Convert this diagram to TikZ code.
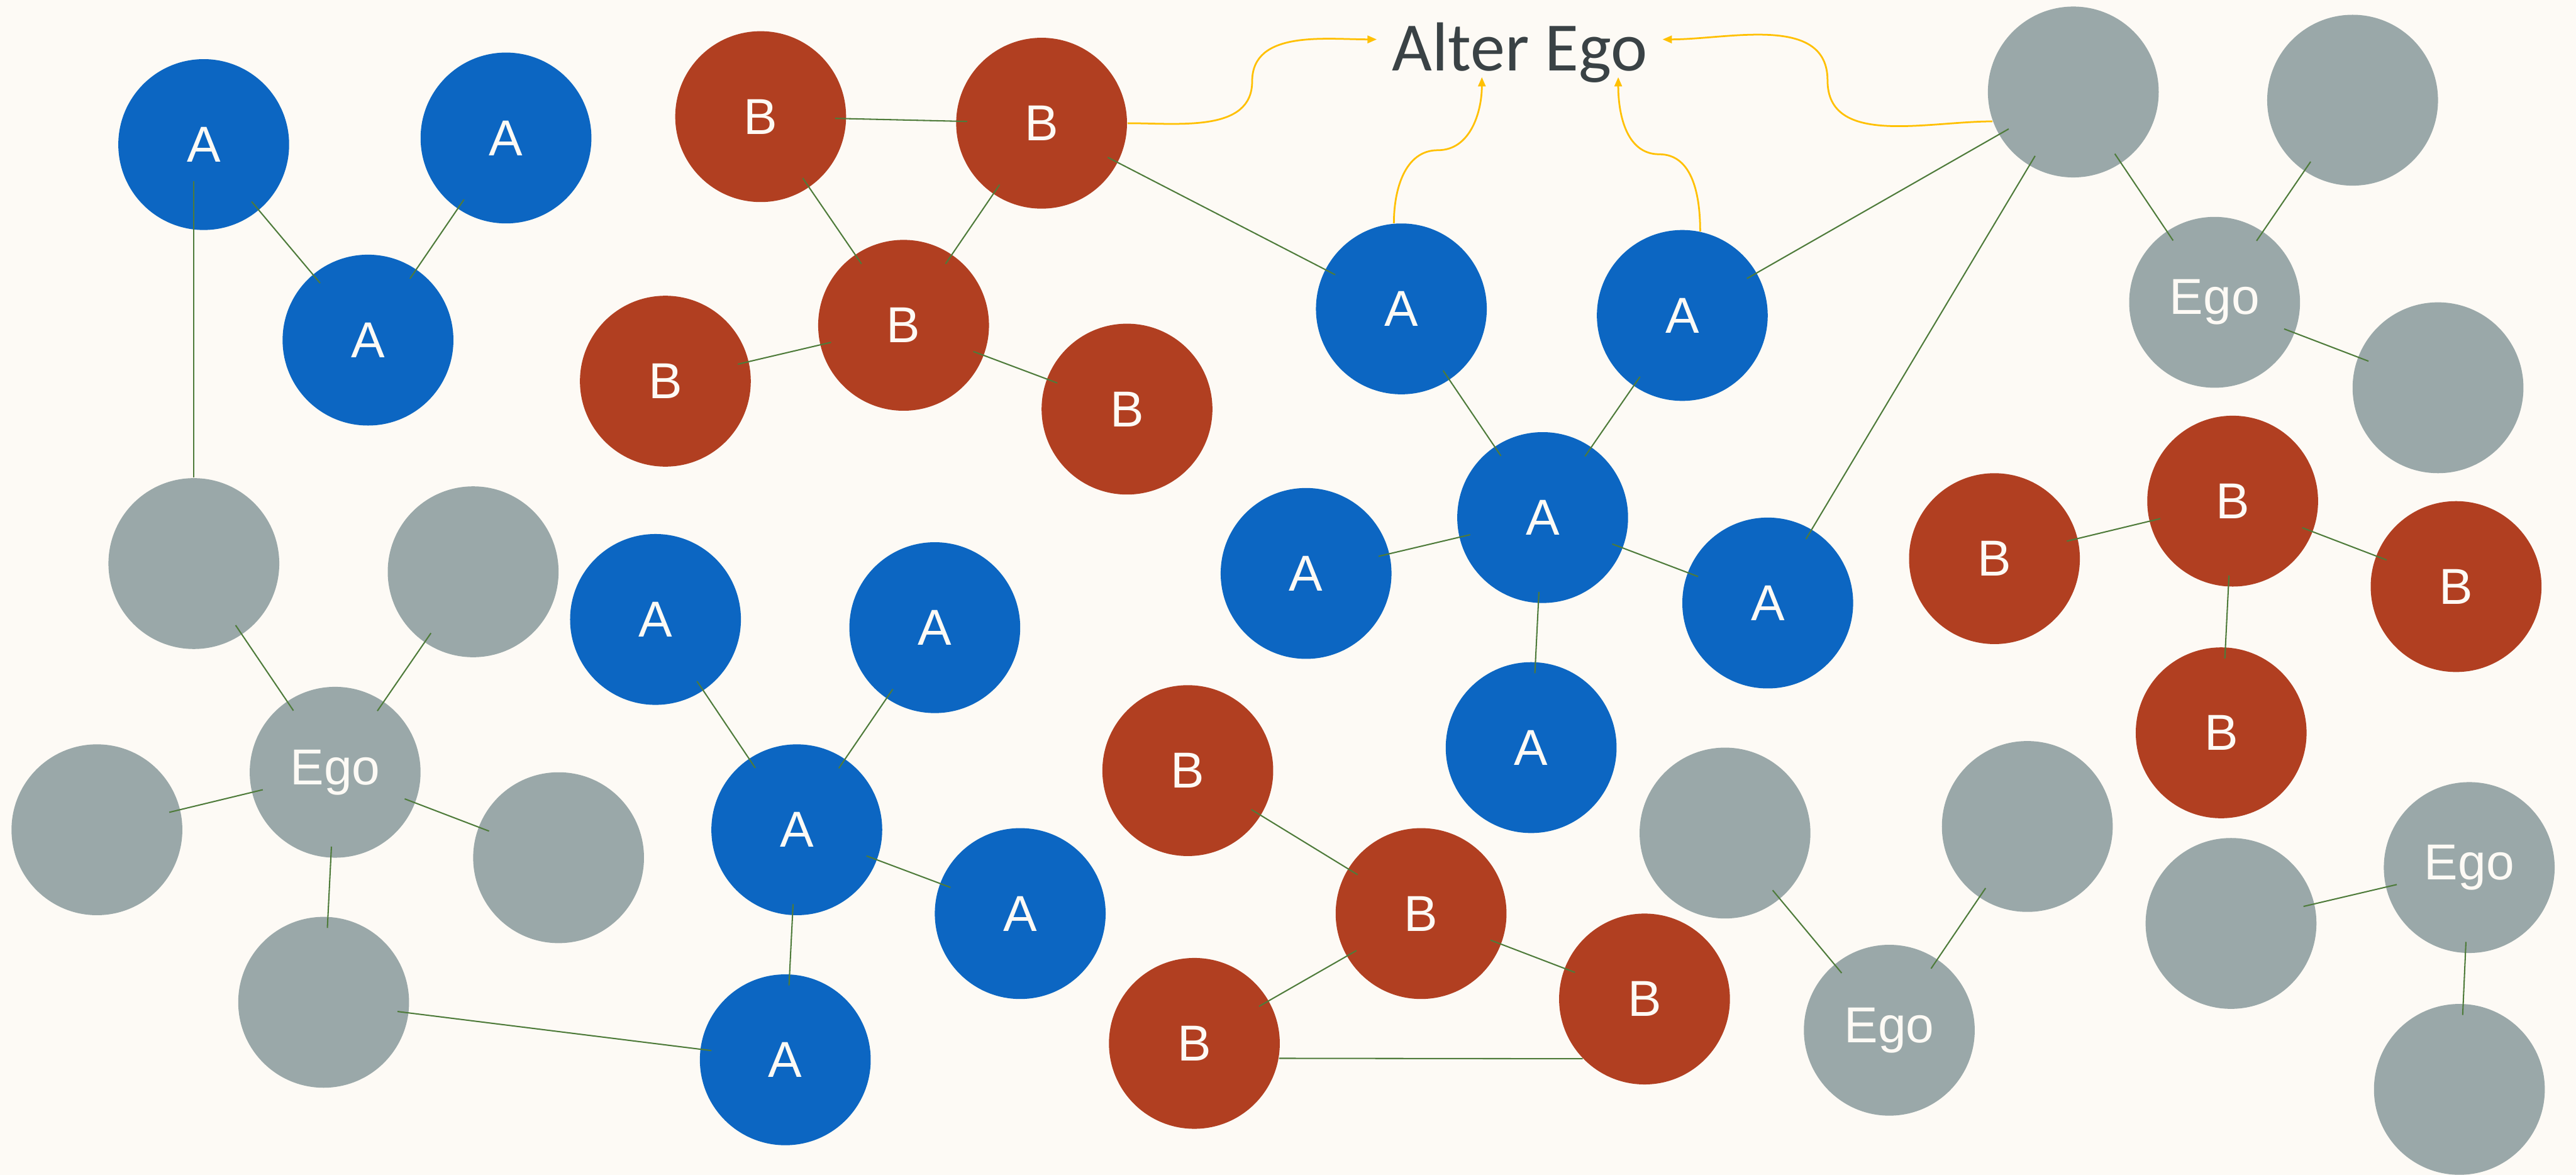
\documentclass[tikz,border=0pt]{standalone}
\usepackage{fontspec}
\usepackage{xcolor}
\newfontfamily\nodefont{Liberation Sans}
\newfontfamily\titlefont{Carlito}
\definecolor{egbg}{HTML}{FDFAF5}
\definecolor{egblue}{HTML}{0C66C2}
\definecolor{egred}{HTML}{B13F21}
\definecolor{eggray}{HTML}{9AA8A9}
\definecolor{eggreen}{HTML}{4E7B3A}
\definecolor{egyellow}{HTML}{FFC000}
\definecolor{egtext}{HTML}{3A4245}
\usetikzlibrary{arrows.meta,calc}

\begin{document}
\begin{tikzpicture}[x=0.02cm,y=0.02cm,
  egnode/.style={circle,minimum size=2.08cm,inner sep=0pt,text=egbg,
    font=\nodefont\fontsize{17.5}{20}\selectfont},
  egA/.style={egnode,fill=egblue},
  egB/.style={egnode,fill=egred},
  egG/.style={egnode,fill=eggray},
  eglink/.style={draw=eggreen,line width=0.45pt,shorten <=-4pt,shorten >=-4pt},
  egarr/.style={-{Triangle[length=3.2pt,width=2.6pt]},draw=egyellow,line width=0.6pt}
]
  \fill[egbg] (0,0) rectangle (1568,715);
  \useasboundingbox (0,0) rectangle (1568,715);

  % title
  \node[font=\titlefont\fontsize{24}{28}\selectfont,text=egtext,anchor=base,inner sep=0pt]
    (alter) at (925,672) {Alter Ego};
  \coordinate (tip1) at (838,691);
  \coordinate (tip2) at (902,668);
  \coordinate (tip3) at (985,668);
  \coordinate (tip4) at (1012,691);

  % A nodes
  \node[egA] (a1) at (124,627) {A};
  \node[egA] (a2) at (308,631) {A};
  \node[egA] (a3) at (224,508) {A};
  \node[egA] (a4) at (853,527) {A};
  \node[egA] (a5) at (1024,523) {A};
  \node[egA] (a6) at (939,400) {A};
  \node[egA] (a7) at (795,366) {A};
  \node[egA] (a8) at (1076,348) {A};
  \node[egA] (a9) at (932,260) {A};
  \node[egA] (a10) at (399,338) {A};
  \node[egA] (a11) at (569,333) {A};
  \node[egA] (a12) at (485,210) {A};
  \node[egA] (a13) at (621,159) {A};
  \node[egA] (a14) at (478,70) {A};

  % B nodes
  \node[egB] (b1) at (463,644) {B};
  \node[egB] (b2) at (634,640) {B};
  \node[egB] (b3) at (550,517) {B};
  \node[egB] (b4) at (405,483) {B};
  \node[egB] (b5) at (686,466) {B};
  \node[egB] (b6) at (1214,375) {B};
  \node[egB] (b7) at (1359,410) {B};
  \node[egB] (b8) at (1495,358) {B};
  \node[egB] (b9) at (1352,269) {B};
  \node[egB] (b10) at (723,246) {B};
  \node[egB] (b11) at (865,159) {B};
  \node[egB] (b12) at (727,80) {B};
  \node[egB] (b13) at (1001,107) {B};

  % ego networks
  \node[egG] (g1) at (1262,659) {};
  \node[egG] (g2) at (1432,654) {};
  \node[egG] (e1) at (1348,531) {Ego};
  \node[egG] (g3) at (1484,479) {};
  \node[egG] (g4) at (118,372) {};
  \node[egG] (g5) at (288,367) {};
  \node[egG] (e2) at (204,245) {Ego};
  \node[egG] (g6) at (59,210) {};
  \node[egG] (g7) at (340,193) {};
  \node[egG] (g8) at (197,105) {};
  \node[egG] (g9) at (1050,208) {};
  \node[egG] (g10) at (1234,212) {};
  \node[egG] (e3) at (1150,88) {Ego};
  \node[egG] (g11) at (1358,153) {};
  \node[egG] (e4) at (1503,187) {Ego};
  \node[egG] (g12) at (1497,52) {};

  % links
  \foreach \s/\t in {a1/a3,a2/a3,g4/e2,g5/e2,g6/e2,e2/g7,e2/g8,g8/a14,
      b1/b2,b2/b3,b1/b3,b4/b3,b3/b5,b2/a4,
      a4/a6,a5/a6,a7/a6,a6/a8,a6/a9,a5/g1,a8/g1,
      g1/e1,g2/e1,e1/g3,b6/b7,b7/b8,b7/b9,
      a10/a12,a11/a12,a12/a13,a12/a14,
      b10/b11,b11/b12,b11/b13,g9/e3,g10/e3,g11/e4,e4/g12}
    \draw[eglink] (\s) -- (\t);
  \draw[eglink,shorten <=0pt,shorten >=-0.6cm] (g4.north) -- (g4.north |- a1.south);
  \draw[eglink,shorten <=0pt,shorten >=0pt] (b12.-10) -- (b13.224);

  % arrows to the title
  \draw[egarr] (b2.east) to[out=0,in=-90] ($(b2.east)!.5!(tip1)$) to[out=90,in=180] (tip1);
  \draw[egarr] (a4.95) to[out=90,in=180] ($(a4.95)!.5!(tip2)$) to[out=0,in=-90] (tip2);
  \draw[egarr] (a5.78) to[out=90,in=0] ($(a5.78)!.5!(tip3)$) to[out=180,in=-90] (tip3);
  \draw[egarr] (g1.200) to[out=180,in=-90] ($(g1.200)!.5!(tip4)$) to[out=90,in=0] (tip4);
\end{tikzpicture}
\end{document}
